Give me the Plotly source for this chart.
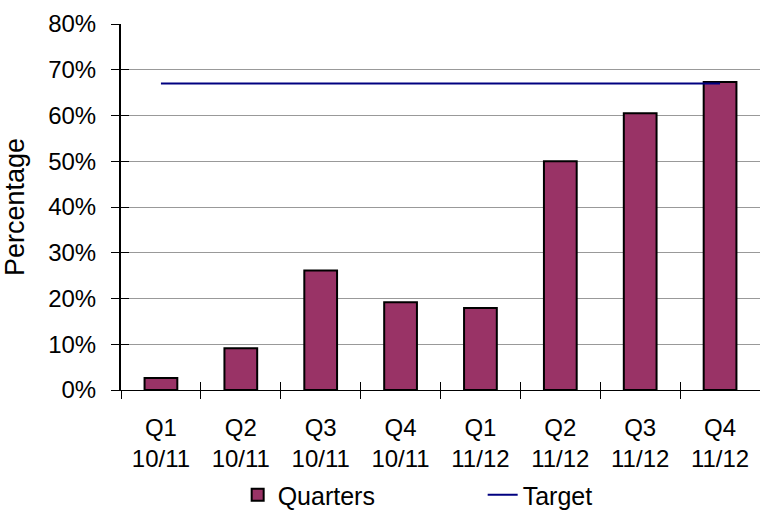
import plotly.graph_objects as go

# Quarterly results against the target, in percent
quarters = ["Q1<br>10/11", "Q2<br>10/11", "Q3<br>10/11", "Q4<br>10/11",
            "Q1<br>11/12", "Q2<br>11/12", "Q3<br>11/12", "Q4<br>11/12"]
quarter_values = [2.6, 9.1, 26.1, 19.2, 17.9, 50.0, 60.5, 67.3]
target_values = [67, 67, 67, 67, 67, 67, 67, 67]
y_ticks = [0, 10, 20, 30, 40, 50, 60, 70, 80]
y_tick_labels = ["0%", "10%", "20%", "30%", "40%", "50%", "60%", "70%", "80%"]

FONT = "Liberation Sans, Arial, sans-serif"
BAR_COLOR = "#993366"
TARGET_COLOR = "#000080"
GRID_COLOR = "#999999"

fig = go.Figure()

fig.add_trace(go.Bar(
    x=quarters, y=quarter_values, name="Quarters",
    marker=dict(color=BAR_COLOR, line=dict(color="black", width=2)),
    width=0.41,
))
fig.add_trace(go.Scatter(
    x=quarters, y=target_values, name="Target", mode="lines",
    line=dict(color=TARGET_COLOR, width=2),
))
# invisible helper trace so the overlay axes (inner half of the cross ticks) get drawn
fig.add_trace(go.Scatter(
    x=quarters, y=quarter_values, mode="none", showlegend=False,
    hoverinfo="skip", xaxis="x2", yaxis="y2",
))

axis_font = dict(family=FONT, size=24, color="black")

fig.update_layout(
    width=760, height=518,
    margin=dict(l=121, r=0, t=24, b=128),
    paper_bgcolor="white", plot_bgcolor="white",
    font=axis_font,
    showlegend=True,
    legend=dict(
        orientation="h", x=0.566, xanchor="center",
        yref="container", y=-0.02, yanchor="bottom",
        font=dict(family=FONT, size=25, color="black"),
        entrywidth=200, bgcolor="rgba(0,0,0,0)",
    ),
    xaxis=dict(
        type="category", categoryorder="array", categoryarray=quarters,
        range=[-0.5, 7.5], showgrid=False,
        showline=True, linecolor="black", linewidth=1,
        ticks="outside", ticklen=8, tickcolor="black", tickwidth=1,
        tickson="boundaries", tickfont=axis_font, ticklabelstandoff=16,
    ),
    yaxis=dict(
        range=[0, 80], tickvals=y_ticks, ticktext=y_tick_labels,
        showgrid=True, gridcolor=GRID_COLOR, gridwidth=1,
        showline=True, linecolor="black", linewidth=2,
        ticks="outside", ticklen=8, tickcolor="black", tickwidth=1,
        tickfont=axis_font, ticklabelstandoff=10, zeroline=False,
        title=dict(text="Percentage", font=dict(family=FONT, size=27, color="black"),
                   standoff=16),
    ),
    xaxis2=dict(
        type="category", categoryorder="array", categoryarray=quarters,
        range=[-0.5, 7.5], overlaying="x", anchor="y2",
        showgrid=False, showline=False, showticklabels=False,
        ticks="inside", ticklen=8, tickcolor="black", tickwidth=1,
        tickson="boundaries",
    ),
    yaxis2=dict(
        range=[0, 80], tickvals=y_ticks, overlaying="y", anchor="x2", side="left",
        showgrid=False, showline=False, showticklabels=False, zeroline=False,
        ticks="inside", ticklen=8, tickcolor="black", tickwidth=1,
    ),
    bargap=0.59,
)

fig.write_html("out.html")
